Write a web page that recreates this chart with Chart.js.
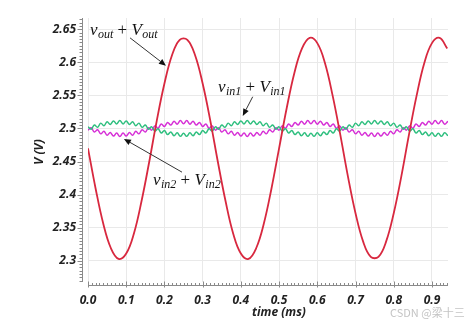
<!DOCTYPE html>
<html>
<head>
<meta charset="utf-8">
<script src="https://cdn.jsdelivr.net/npm/chart.js@4/dist/chart.umd.min.js"></script>
<style>
html,body{margin:0;padding:0;background:#fff;}
#wrap{position:relative;width:474px;height:322px;}
</style>
</head>
<body>
<div id="wrap"><canvas id="c" width="474" height="322"></canvas></div>
<script>
// ---- data ----
const xTickValues = [0, 0.1, 0.2, 0.3, 0.4, 0.5, 0.6, 0.7, 0.8, 0.9];
const xTickLabels = ['0.0','0.1','0.2','0.3','0.4','0.5','0.6','0.7','0.8','0.9'];
const yTickValues = [2.3, 2.35, 2.4, 2.45, 2.5, 2.55, 2.6, 2.65];
const yTickLabels = ['2.3','2.35','2.4','2.45','2.5','2.55','2.6','2.65'];

// v_out + V_out (red)
const tOut = [0,0.02,0.04,0.06,0.08,0.10,0.12,0.14,0.16,0.18,0.20,0.22,0.24,0.26,0.28,0.30,0.32,0.34,0.36,0.38,
  0.40,0.42,0.44,0.46,0.48,0.50,0.52,0.54,0.56,0.58,0.60,0.62,0.64,0.66,0.68,0.70,0.72,0.74,0.76,0.78,
  0.80,0.82,0.84,0.86,0.88,0.90,0.92,0.94];
const vOut = [2.470,2.409,2.356,2.319,2.303,2.311,2.341,2.390,2.449,2.512,2.568,2.611,2.634,2.634,2.611,2.568,2.512,2.449,2.390,2.341,
  2.311,2.303,2.319,2.356,2.409,2.470,2.531,2.584,2.621,2.637,2.629,2.599,2.550,2.491,2.428,2.372,2.329,2.306,2.306,2.329,
  2.372,2.428,2.491,2.550,2.599,2.629,2.637,2.621];

// time samples of the rippled input signals (ripple extremes)
const tIn = [0,0.0083,0.0167,0.025,0.0333,0.0417,0.05,0.0583,0.0667,0.075,0.0833,0.0917,
  0.1,0.1083,0.1167,0.125,0.1333,0.1417,0.15,0.1583,0.1667,0.175,0.1833,0.1917,
  0.2,0.2083,0.2167,0.225,0.2333,0.2417,0.25,0.2583,0.2667,0.275,0.2833,0.2917,
  0.3,0.3083,0.3167,0.325,0.3333,0.3417,0.35,0.3583,0.3667,0.375,0.3833,0.3917,
  0.4,0.4083,0.4167,0.425,0.4333,0.4417,0.45,0.4583,0.4667,0.475,0.4833,0.4917,
  0.5,0.5083,0.5167,0.525,0.5333,0.5417,0.55,0.5583,0.5667,0.575,0.5833,0.5917,
  0.6,0.6083,0.6167,0.625,0.6333,0.6417,0.65,0.6583,0.6667,0.675,0.6833,0.6917,
  0.7,0.7083,0.7167,0.725,0.7333,0.7417,0.75,0.7583,0.7667,0.775,0.7833,0.7917,
  0.8,0.8083,0.8167,0.825,0.8333,0.8417,0.85,0.8583,0.8667,0.875,0.8833,0.8917,
  0.9,0.9083,0.9167,0.925,0.9333,0.9417];

// v_in1 + V_in1 (green)
const vIn1 = [2.5025,2.4990,2.5054,2.5018,2.5081,2.5042,2.5102,2.5060,2.5115,2.5069,2.5120,2.5069,2.5115,2.5060,2.5102,2.5042,2.5081,2.5018,2.5054,2.4990,
  2.5025,2.4960,2.4996,2.4932,2.4969,2.4908,2.4948,2.4890,2.4935,2.4881,2.4930,2.4881,2.4935,2.4890,2.4948,2.4908,2.4969,2.4932,2.4996,2.4960,
  2.5025,2.4990,2.5054,2.5018,2.5081,2.5042,2.5102,2.5060,2.5115,2.5069,2.5120,2.5069,2.5115,2.5060,2.5102,2.5042,2.5081,2.5018,2.5054,2.4990,
  2.5025,2.4960,2.4996,2.4932,2.4969,2.4908,2.4948,2.4890,2.4935,2.4881,2.4930,2.4881,2.4935,2.4890,2.4948,2.4908,2.4969,2.4932,2.4996,2.4960,
  2.5025,2.4990,2.5054,2.5018,2.5081,2.5042,2.5102,2.5060,2.5115,2.5069,2.5120,2.5069,2.5115,2.5060,2.5102,2.5042,2.5081,2.5018,2.5054,2.4990,
  2.5025,2.4960,2.4996,2.4932,2.4969,2.4908,2.4948,2.4890,2.4935,2.4881,2.4930,2.4881,2.4935,2.4890];

// v_in2 + V_in2 (magenta)
const vIn2 = [2.4975,2.5010,2.4946,2.4982,2.4919,2.4958,2.4898,2.4940,2.4885,2.4931,2.4880,2.4931,2.4885,2.4940,2.4898,2.4958,2.4919,2.4982,2.4946,2.5010,
  2.4975,2.5040,2.5004,2.5068,2.5031,2.5092,2.5052,2.5110,2.5065,2.5119,2.5070,2.5119,2.5065,2.5110,2.5052,2.5092,2.5031,2.5068,2.5004,2.5040,
  2.4975,2.5010,2.4946,2.4982,2.4919,2.4958,2.4898,2.4940,2.4885,2.4931,2.4880,2.4931,2.4885,2.4940,2.4898,2.4958,2.4919,2.4982,2.4946,2.5010,
  2.4975,2.5040,2.5004,2.5068,2.5031,2.5092,2.5052,2.5110,2.5065,2.5119,2.5070,2.5119,2.5065,2.5110,2.5052,2.5092,2.5031,2.5068,2.5004,2.5040,
  2.4975,2.5010,2.4946,2.4982,2.4919,2.4958,2.4898,2.4940,2.4885,2.4931,2.4880,2.4931,2.4885,2.4940,2.4898,2.4958,2.4919,2.4982,2.4946,2.5010,
  2.4975,2.5040,2.5004,2.5068,2.5031,2.5092,2.5052,2.5110,2.5065,2.5119,2.5070,2.5119,2.5065,2.5110];

// annotation anchors (data coordinates)
const annotations = [
  {text:[['v','m'],['out','s'],[' + ','p'],['V','m'],['out','s']], tx:0.005, ty:2.6417, from:[0.110,2.637], to:[0.204,2.595]},
  {text:[['v','m'],['in1','s'],[' + ','p'],['V','m'],['in1','s']], tx:0.340, ty:2.5555, from:[0.431,2.548], to:[0.405,2.519]},
  {text:[['v','m'],['in2','s'],[' + ','p'],['V','m'],['in2','s']], tx:0.170, ty:2.415, from:[0.246,2.434], to:[0.094,2.4843]}
];

const xMin = 0, xMax = 0.942, yMin = 2.268, yMax = 2.667;

const toXY = (xs, ys) => xs.map((x, i) => ({x, y: ys[i]}));

const tickFont = {family:'"Open Sans"', size:12, style:'italic', weight:'bold'};

const deco = {
  id: 'deco',
  afterDraw(chart) {
    const {ctx, chartArea: a, scales: {x, y}} = chart;
    ctx.save();
    // offset axis lines with minor ticks
    ctx.strokeStyle = '#8a8a8a';
    ctx.lineWidth = 1;
    const axX = Math.round(a.left - 6) + 0.5;
    ctx.beginPath();
    ctx.moveTo(axX, a.top); ctx.lineTo(axX, a.bottom);
    for (let m = Math.ceil(yMin / 0.005 - 1e-6); m * 0.005 <= yMax + 1e-9; m++) {
      const py = Math.round(y.getPixelForValue(m * 0.005)) + 0.5;
      const major = m % 10 === 0;
      ctx.moveTo(axX, py); ctx.lineTo(axX - (major ? 5 : 3), py);
    }
    ctx.stroke();
    const axY = Math.round(a.bottom + 3) + 0.5;
    ctx.beginPath();
    ctx.moveTo(a.left, axY); ctx.lineTo(a.right, axY);
    for (let m = 0; m * 0.01 <= xMax + 1e-9; m++) {
      const px = Math.round(x.getPixelForValue(m * 0.01)) + 0.5;
      const major = m % 10 === 0;
      ctx.moveTo(px, axY); ctx.lineTo(px, axY - (major ? 4 : 2.5));
      if (major) { ctx.moveTo(px, axY); ctx.lineTo(px, axY + 2); }
    }
    ctx.stroke();

    // axis titles
    ctx.fillStyle = '#222';
    ctx.font = 'italic bold 12px "Open Sans"';
    ctx.textAlign = 'center';
    ctx.textBaseline = 'middle';
    ctx.fillText('time (ms)', 279, 313);
    ctx.save();
    ctx.translate(40, 152);
    ctx.rotate(-Math.PI / 2);
    ctx.fillText('V (V)', 0, 0);
    ctx.restore();

    // annotations
    ctx.textAlign = 'left';
    ctx.textBaseline = 'alphabetic';
    for (const an of annotations) {
      let px = x.getPixelForValue(an.tx);
      const py = y.getPixelForValue(an.ty);
      for (const [s, kind] of an.text) {
        if (kind === 'm') ctx.font = 'italic 17px "Liberation Serif"';
        else if (kind === 's') ctx.font = 'italic 12px "Liberation Serif"';
        else ctx.font = '17px "Liberation Serif"';
        ctx.fillStyle = '#111';
        ctx.fillText(s, px, kind === 's' ? py + 3 : py);
        px += ctx.measureText(s).width + (kind === 'm' ? 0.5 : 0);
      }
      const x1 = x.getPixelForValue(an.from[0]), y1 = y.getPixelForValue(an.from[1]);
      const x2 = x.getPixelForValue(an.to[0]), y2 = y.getPixelForValue(an.to[1]);
      const ang = Math.atan2(y2 - y1, x2 - x1);
      const hl = 7, hw = 3;
      ctx.strokeStyle = '#333';
      ctx.lineWidth = 1;
      ctx.beginPath();
      ctx.moveTo(x1, y1);
      ctx.lineTo(x2 - hl * Math.cos(ang), y2 - hl * Math.sin(ang));
      ctx.stroke();
      ctx.fillStyle = '#111';
      ctx.beginPath();
      ctx.moveTo(x2, y2);
      ctx.lineTo(x2 - hl * Math.cos(ang) + hw * Math.sin(ang), y2 - hl * Math.sin(ang) - hw * Math.cos(ang));
      ctx.lineTo(x2 - hl * Math.cos(ang) - hw * Math.sin(ang), y2 - hl * Math.sin(ang) + hw * Math.cos(ang));
      ctx.closePath();
      ctx.fill();
    }

    // watermark
    ctx.font = '11px "Noto Sans CJK SC"';
    ctx.fillStyle = '#c4c4c4';
    ctx.textAlign = 'left';
    ctx.textBaseline = 'middle';
    ctx.fillText('CSDN @梁十三', 390, 313);
    ctx.restore();
  }
};

new Chart(document.getElementById('c'), {
  type: 'line',
  data: {
    datasets: [
      {label: 'v_out + V_out', data: toXY(tOut, vOut), borderColor: '#d8283f', borderWidth: 1.8, tension: 0.4},
      {label: 'v_in1 + V_in1', data: toXY(tIn, vIn1), borderColor: '#2fbf7f', borderWidth: 1.5, tension: 0.4},
      {label: 'v_in2 + V_in2', data: toXY(tIn, vIn2), borderColor: '#d62fd6', borderWidth: 1.5, tension: 0.4}
    ]
  },
  options: {
    responsive: false,
    animation: false,
    events: [],
    layout: {padding: {top: 18, right: 26, bottom: 0, left: 0}},
    elements: {point: {radius: 0}},
    plugins: {legend: {display: false}, tooltip: {enabled: false}, title: {display: false}},
    scales: {
      x: {
        type: 'linear', min: xMin, max: xMax,
        afterFit(s) { s.height = 40; },
        afterBuildTicks(s) { s.ticks = xTickValues.map(v => ({value: v})); },
        ticks: {
          font: tickFont, color: '#222', padding: 3, maxRotation: 0, autoSkip: false,
          callback: (v) => { const i = xTickValues.findIndex(t => Math.abs(t - v) < 1e-9); return i >= 0 ? xTickLabels[i] : ''; }
        },
        grid: {color: '#e9e9e9', lineWidth: 1, drawTicks: true, tickLength: 8, tickColor: 'rgba(0,0,0,0)'},
        border: {display: false}
      },
      y: {
        type: 'linear', min: yMin, max: yMax,
        afterFit(s) { s.width = 88; },
        afterBuildTicks(s) { s.ticks = yTickValues.map(v => ({value: v})); },
        ticks: {
          font: tickFont, color: '#222', padding: 4, autoSkip: false,
          callback: (v) => { const i = yTickValues.findIndex(t => Math.abs(t - v) < 1e-9); return i >= 0 ? yTickLabels[i] : ''; }
        },
        grid: {color: '#e9e9e9', lineWidth: 1, drawTicks: true, tickLength: 8, tickColor: 'rgba(0,0,0,0)'},
        border: {display: false}
      }
    }
  },
  plugins: [deco]
});
</script>
</body>
</html>
